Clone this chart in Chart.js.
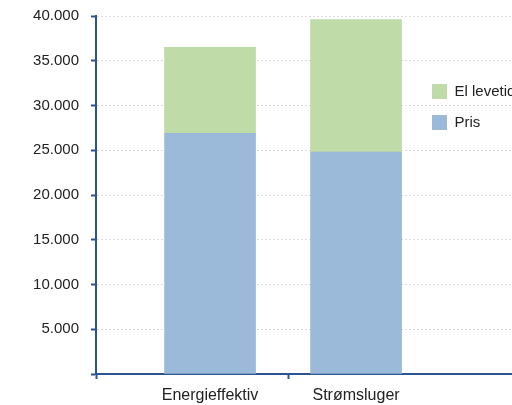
<!DOCTYPE html>
<html>
<head>
<meta charset="utf-8">
<script src="https://cdn.jsdelivr.net/npm/chart.js@4/dist/chart.umd.min.js"></script>
<style>
  html, body { margin: 0; padding: 0; background: #ffffff; }
  #wrap { width: 512px; height: 405px; }
</style>
</head>
<body>
<div id="wrap"><canvas id="c" width="512" height="405"></canvas></div>
<script>
// Categories and stacked series (kroner)
const categories = ['Energieffektiv', 'Strømsluger'];
const prisValues = [26900, 24800];
const elLevetidValues = [9600, 14800];
const seriesNames = ['Pris', 'El levetid'];
const yTickValues = [0, 5000, 10000, 15000, 20000, 25000, 30000, 35000, 40000];

const AXIS_BLUE = '#2c5491';
const TEXT = '#222222';
const FONT = "'Liberation Sans', Arial, Helvetica, sans-serif";

// Horizontal axis: categories sit at 0 and 1; the window and divider tick
// are chosen so the plot reads like a category axis with wide margins.
const X_MIN = -0.781;
const X_MAX = 2.068;
const X_DIVIDER = 0.534;

function thousands(v) {
  return String(v).replace(/\B(?=(\d{3})+(?!\d))/g, '.');
}

const toPoints = (vals) => vals.map((v, i) => ({ x: i, y: v }));

// Places the legend as a small floating block on the right of the plot
const floatingLegend = {
  id: 'floatingLegend',
  afterLayout(chart) {
    const lg = chart.legend;
    if (!lg) return;
    lg.left = 416;
    lg.right = 512;
    lg.width = 96;
    lg.top = 68;
    lg.bottom = chart.chartArea.bottom;
    lg.height = lg.bottom - lg.top;
  }
};

new Chart(document.getElementById('c'), {
  type: 'bar',
  data: {
    datasets: [
      {
        label: seriesNames[0],
        data: toPoints(prisValues),
        backgroundColor: '#9bb9d9',
        borderWidth: 0
      },
      {
        label: seriesNames[1],
        data: toPoints(elLevetidValues),
        backgroundColor: '#bedba8',
        borderWidth: 0
      }
    ]
  },
  options: {
    responsive: false,
    animation: false,
    events: [],
    barThickness: 91,
    layout: { padding: { top: 16, right: 0, left: 0, bottom: 0 } },
    plugins: {
      tooltip: { enabled: false },
      legend: {
        position: 'chartArea',
        align: 'start',
        reverse: true,
        labels: {
          boxWidth: 15,
          boxHeight: 15,
          padding: 16,
          color: TEXT,
          font: { family: FONT, size: 15 }
        }
      }
    },
    scales: {
      x: {
        type: 'linear',
        stacked: true,
        offset: false,
        min: X_MIN,
        max: X_MAX,
        afterBuildTicks(scale) {
          scale.ticks = [X_MIN, 0, X_DIVIDER, 1].map(v => ({ value: v }));
        },
        afterFit(scale) { scale.height = 31; },
        grid: {
          offset: false,
          drawOnChartArea: false,
          drawTicks: true,
          tickLength: 5,
          tickWidth: 2,
          tickColor: (ctx) => (ctx.tick && Number.isInteger(ctx.tick.value)) ? 'rgba(0,0,0,0)' : AXIS_BLUE
        },
        border: { display: true, color: AXIS_BLUE, width: 2 },
        ticks: {
          autoSkip: false,
          maxRotation: 0,
          padding: 7,
          color: TEXT,
          font: { family: FONT, size: 16 },
          callback: (v) => Number.isInteger(v) ? categories[v] : ''
        }
      },
      y: {
        stacked: true,
        min: 0,
        max: 40000,
        afterBuildTicks(scale) {
          scale.ticks = yTickValues.map(v => ({ value: v }));
        },
        afterFit(scale) {
          scale.width = 96;
          scale.paddingTop = 0;
          scale.paddingBottom = 0;
        },
        grid: {
          color: '#dcdcdc',
          lineWidth: 1,
          drawTicks: true,
          tickLength: 5,
          tickWidth: 2,
          tickColor: AXIS_BLUE
        },
        border: { display: true, color: AXIS_BLUE, width: 2, dash: [2, 2] },
        ticks: {
          padding: 12,
          color: TEXT,
          font: { family: FONT, size: 15 },
          callback: (v) => v === 0 ? '' : thousands(v)
        }
      }
    }
  },
  plugins: [floatingLegend]
});
</script>
</body>
</html>
